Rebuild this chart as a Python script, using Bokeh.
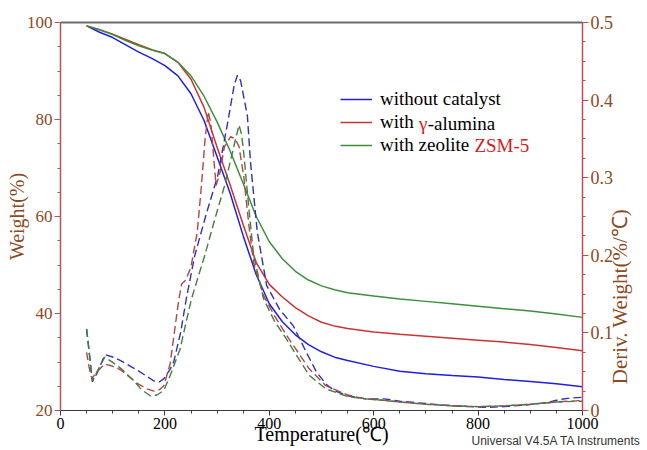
import math
from bokeh.plotting import figure
from bokeh.models import (Range1d, LinearAxis, SingleIntervalTicker, FixedTicker,
                          Label, Legend, LegendItem)
from bokeh.embed import file_html
from bokeh.resources import INLINE

# ---------------- data ----------------
temp_tga = [50, 75, 100, 125, 150, 175, 200, 225, 250, 275, 300, 325, 350, 375, 400,
            425, 450, 475, 500, 525, 550, 600, 650, 700, 750, 800, 850, 900, 950, 1000]
w_none = [99.3, 98.0, 96.9, 95.4, 93.9, 92.6, 91.1, 89.0, 85.3, 79.8, 72.3, 64.8, 56.0, 48.0, 42.0,
          38.3, 35.6, 33.6, 32.1, 31.0, 30.3, 29.1, 28.1, 27.6, 27.2, 26.9, 26.4, 26.0, 25.5, 24.9]
w_alumina = [99.3, 98.5, 97.6, 96.5, 95.4, 94.4, 93.6, 91.8, 88.3, 82.5, 74.3, 66.5, 58.3, 50.5, 46.0,
             43.4, 41.2, 39.5, 38.2, 37.4, 36.9, 36.2, 35.7, 35.3, 34.9, 34.5, 34.1, 33.6, 33.0, 32.3]
w_zsm5 = [99.3, 98.5, 97.5, 96.3, 95.2, 94.3, 93.6, 91.8, 89.0, 84.8, 79.5, 73.5, 66.8, 60.0, 54.8,
          51.3, 48.7, 46.9, 45.7, 44.9, 44.3, 43.6, 43.0, 42.5, 42.0, 41.5, 41.0, 40.5, 39.9, 39.2]

temp_d_none = [50, 55, 61, 70, 85, 100, 116, 147, 179, 190, 198, 210, 217, 230, 241, 257, 280,
               301, 320, 333, 339, 345, 358, 364, 377, 395, 420, 446, 471, 490, 510, 527, 550,
               584, 620, 650, 700, 734, 780, 815, 850, 891, 930, 955, 975, 1000]
d_none = [0.105, 0.075, 0.037, 0.048, 0.072, 0.069, 0.064, 0.052, 0.038, 0.037, 0.041, 0.053,
          0.063, 0.100, 0.144, 0.199, 0.255, 0.302, 0.370, 0.420, 0.432, 0.425, 0.380, 0.320,
          0.230, 0.161, 0.130, 0.109, 0.075, 0.050, 0.033, 0.025, 0.019, 0.015, 0.015, 0.012,
          0.009, 0.007, 0.005, 0.004, 0.005, 0.007, 0.010, 0.014, 0.016, 0.017]

temp_d_alumina = [50, 55, 60, 70, 85, 100, 116, 147, 165, 179, 190, 198, 210, 220, 226, 232, 240,
                  250, 262, 270, 277, 283, 288, 293, 298, 305, 314, 326, 335, 342, 351, 361, 370,
                  389, 410, 433, 455, 476, 508, 550, 584, 620, 650, 700, 750, 800, 850, 900, 950, 1000]
d_alumina = [0.075, 0.055, 0.041, 0.050, 0.060, 0.057, 0.052, 0.035, 0.028, 0.025, 0.027, 0.032,
             0.060, 0.110, 0.140, 0.163, 0.168, 0.185, 0.230, 0.290, 0.350, 0.385, 0.370, 0.330,
             0.290, 0.305, 0.340, 0.353, 0.350, 0.340, 0.302, 0.238, 0.190, 0.148, 0.122, 0.097,
             0.075, 0.054, 0.032, 0.020, 0.015, 0.013, 0.011, 0.008, 0.006, 0.005, 0.006, 0.008,
             0.011, 0.013]

temp_d_zsm5 = [50, 55, 61, 70, 85, 100, 116, 138, 155, 172, 185, 198, 210, 229, 241, 251, 265,
               276, 295, 314, 325, 332, 342, 347, 351, 361, 370, 389, 410, 433, 455, 477, 508,
               550, 584, 620, 650, 700, 750, 800, 850, 900, 950, 1000]
d_zsm5 = [0.105, 0.075, 0.038, 0.050, 0.069, 0.062, 0.054, 0.040, 0.027, 0.019, 0.020, 0.026,
          0.045, 0.079, 0.115, 0.144, 0.175, 0.199, 0.245, 0.289, 0.320, 0.340, 0.368, 0.355,
          0.332, 0.259, 0.200, 0.144, 0.115, 0.092, 0.068, 0.045, 0.028, 0.018, 0.015, 0.013,
          0.011, 0.008, 0.006, 0.005, 0.006, 0.008, 0.011, 0.012]

x_tick_interval = 200
y_tick_interval = 20
d_tick_interval = 0.1
note_text = "Universal V4.5A TA Instruments"
note_at = 950        # temperature under which the note sits
deriv_title = "Deriv. Weight(%/℃)"
# -----------------------------------------------------------------

SERIF = "Liberation Serif"
BROWN = "#8c4a22"

p = figure(width=647, height=450, output_backend="svg", toolbar_location=None,
           x_range=Range1d(0, 1000), y_range=Range1d(20, 100),
           min_border_left=60, min_border_right=56, min_border_top=22, min_border_bottom=38)
p.extra_y_ranges = {"deriv": Range1d(0, 0.5)}
p.outline_line_color = None
p.grid.visible = False
p.background_fill_color = "white"
p.border_fill_color = "white"

# bottom axis
xa = p.xaxis[0]
xa.ticker = SingleIntervalTicker(interval=x_tick_interval, num_minor_ticks=4)
xa.axis_line_color = "#3a3a3a"
xa.major_tick_line_color = "#3a3a3a"
xa.minor_tick_line_color = "#3a3a3a"
xa.major_tick_out = 5
xa.major_tick_in = 0
xa.minor_tick_out = 3
xa.minor_tick_in = 0
xa.major_label_text_font = SERIF
xa.major_label_text_font_size = "16px"
xa.major_label_text_color = "black"
xa.major_label_standoff = 2
xa.axis_label = "Temperature(℃)"
xa.axis_label_text_font = SERIF
xa.axis_label_text_font_style = "normal"
xa.axis_label_text_font_size = "20px"
xa.axis_label_text_color = "black"
xa.axis_label_standoff = -9

# second bottom axis carrying only the instrument note as a tick label
na = LinearAxis(ticker=FixedTicker(ticks=[note_at], minor_ticks=[]))
na.axis_line_color = None
na.major_tick_line_color = None
na.minor_tick_line_color = None
na.major_tick_out = 0
na.major_tick_in = 0
na.major_label_overrides = {note_at: note_text}
na.major_label_text_font = "Liberation Sans"
na.major_label_text_font_size = "12px"
na.major_label_text_color = "#333333"
na.major_label_standoff = -14
p.add_layout(na, "below")

# left axis
ya = p.yaxis[0]
ya.ticker = SingleIntervalTicker(interval=y_tick_interval, num_minor_ticks=4)
ya.axis_line_color = "#a85a5a"
ya.axis_line_width = 1.5
ya.major_tick_line_color = "#a85a5a"
ya.minor_tick_line_color = "#a85a5a"
ya.major_tick_out = 6
ya.major_tick_in = 0
ya.minor_tick_out = 3
ya.minor_tick_in = 0
ya.major_label_text_font = SERIF
ya.major_label_text_font_size = "17px"
ya.major_label_text_color = BROWN
ya.major_label_standoff = 2
ya.axis_label = "Weight(%)"
ya.axis_label_text_font = SERIF
ya.axis_label_text_font_style = "normal"
ya.axis_label_text_font_size = "20px"
ya.axis_label_text_color = BROWN
ya.axis_label_standoff = -4

# right axis (its title reads bottom-to-top, starting a little above the bottom)
ra = LinearAxis(y_range_name="deriv",
                ticker=SingleIntervalTicker(interval=d_tick_interval, num_minor_ticks=4))
ra.axis_line_color = "#c44a55"
ra.axis_line_width = 1.5
ra.major_tick_line_color = "#c44a55"
ra.minor_tick_line_color = "#c44a55"
ra.major_tick_out = 6
ra.major_tick_in = 0
ra.minor_tick_out = 3
ra.minor_tick_in = 0
ra.major_label_text_font = SERIF
ra.major_label_text_font_size = "18px"
ra.major_label_text_color = BROWN
ra.major_label_standoff = 2
ra.major_label_overrides = {0: "0"}
ra.axis_label = "\u00a0" * 5 + deriv_title
ra.axis_label_text_font = SERIF
ra.axis_label_text_font_style = "normal"
ra.axis_label_text_font_size = "21px"
ra.axis_label_text_color = BROWN
ra.axis_label_standoff = 4
ra.axis_label_align = "start"
try:
    ra.axis_label_orientation = math.pi / 2
except Exception:
    pass
p.add_layout(ra, "right")

# top border line
ta = LinearAxis(ticker=FixedTicker(ticks=[]))
ta.axis_line_color = "#6b6b6b"
ta.axis_line_width = 2
ta.major_tick_line_color = None
ta.minor_tick_line_color = None
p.add_layout(ta, "above")

# curves
solid_cols = ["#2020e0", "#cc3333", "#3d8f3d"]
dash_cols = ["#3030b8", "#b54545", "#3f7f3f"]
r_none = p.line(temp_tga, w_none, line_color=solid_cols[0], line_width=1.5)
r_alu = p.line(temp_tga, w_alumina, line_color=solid_cols[1], line_width=1.5)
r_zsm = p.line(temp_tga, w_zsm5, line_color=solid_cols[2], line_width=1.5)
p.line(temp_d_none, d_none, y_range_name="deriv", line_color=dash_cols[0],
       line_width=1.4, line_dash="8 4")
p.line(temp_d_alumina, d_alumina, y_range_name="deriv", line_color=dash_cols[1],
       line_width=1.4, line_dash="8 4")
p.line(temp_d_zsm5, d_zsm5, y_range_name="deriv", line_color=dash_cols[2],
       line_width=1.4, line_dash="8 4")

# legend (black parts as legend labels, red parts as overlaid labels)
fs = 19.0
legend = Legend(items=[LegendItem(label="without catalyst", renderers=[r_none]),
                       LegendItem(label="with", renderers=[r_alu]),
                       LegendItem(label="with zeolite", renderers=[r_zsm])],
                location=(280, 254), padding=0, margin=0, spacing=1,
                glyph_width=32, glyph_height=20, label_height=20, label_standoff=8,
                label_text_font=SERIF, label_text_font_size="19px",
                label_text_color="black", border_line_color=None,
                background_fill_alpha=0)
p.add_layout(legend, "center")

text_x0 = 280 + 32 + 8
row_y = [309, 287, 265]  # frame units (from bottom)
w_with = (0.722 + 0.278 + 0.278 + 0.5 + 0.25) * fs
w_gamma = 0.46 * fs
w_with_zeolite = (0.722 + 0.278 + 0.278 + 0.5 + 0.25 + 0.444 + 0.444 + 0.5 + 0.278
                  + 0.278 + 0.278 + 0.444 + 0.25) * fs
for txt, xx, yy, col in [("γ", text_x0 + w_with, row_y[1], "#d42020"),
                         ("-alumina", text_x0 + w_with + w_gamma, row_y[1], "black"),
                         ("ZSM-5", text_x0 + w_with_zeolite, row_y[2], "#d42020")]:
    p.add_layout(Label(x=xx, y=yy, x_units="screen", y_units="screen", text=txt,
                       text_font=SERIF, text_font_size="19px", text_color=col,
                       text_align="left", text_baseline="middle"))

open("out.html", "w").write(file_html(p, INLINE))
